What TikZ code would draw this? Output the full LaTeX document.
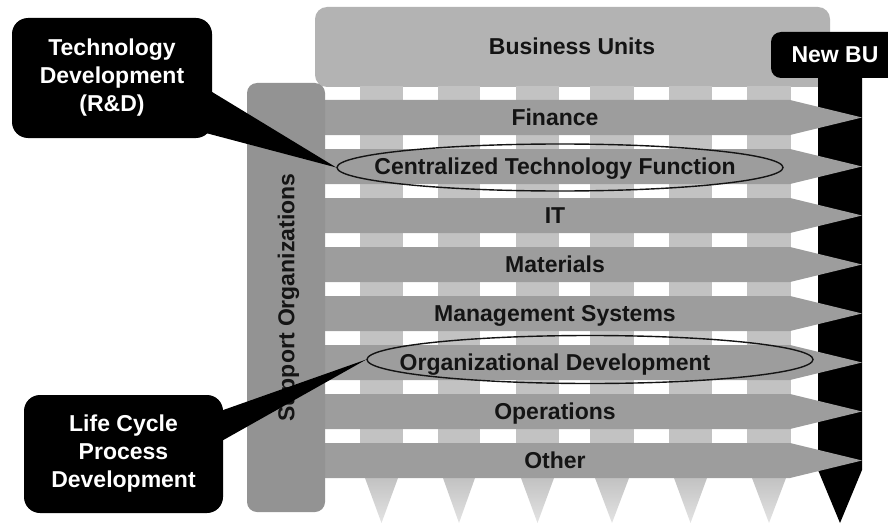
\documentclass[tikz,border=0pt]{standalone}
\usepackage{fontspec}
\setmainfont{Liberation Sans}
\usetikzlibrary{shapes.geometric,calc}
\definecolor{bugray}{HTML}{B3B3B3}
\definecolor{colgray}{HTML}{C2C2C2}
\definecolor{rowgray}{HTML}{9D9D9D}
\definecolor{supgray}{HTML}{939393}
\definecolor{ink}{HTML}{141414}
\begin{document}
\begin{tikzpicture}[x=1pt,y=-1pt,
  lbl/.style={font=\fontsize{23}{28}\selectfont\bfseries, text=ink, inner sep=0pt,
    text height=16.5pt, text depth=0pt},
  calloutbox/.style={fill=black, text=white, rounded corners=16, align=center,
    inner sep=0pt, font=\fontsize{23}{28}\selectfont\bfseries},
  ring/.style={draw=ink, line width=1.4pt, ellipse, inner sep=0pt}]
\useasboundingbox (0,0) rectangle (888,524);

% business unit band across the top
\fill[bugray, rounded corners=12] (315,7) rectangle (830,87);
\node[lbl] (bu) at (572,46) {Business Units};

% business unit columns, each ending in a downward point
\foreach \xl/\xr in {360/403, 438/480, 516/559, 590/634, 669/712, 747/791} {
  \fill[colgray] (\xl,86) rectangle (\xr,478);
  \shade[top color=colgray, bottom color=colgray!45!white]
    (\xl+5,478) -- (\xr-5,478) -- ({(\xl+\xr)/2},523) -- cycle;
}

% the new business unit column
\fill[black] (818,70) -- (862,70) -- (862,470) -- (840,523) -- (818,470) -- cycle;
\node[fill=black, text=white, rounded corners=10, minimum width=128, minimum height=46,
  inner sep=0pt, font=\fontsize{23}{28}\selectfont\bfseries] (newbu) at (835,55) {New BU};

% support functions running across all units
\foreach \i/\t in {0/Finance, 1/Centralized Technology Function, 2/IT, 3/Materials,
                   4/Management Systems, 5/Organizational Development, 6/Operations, 7/Other} {
  \pgfmathsetmacro\rowtop{100+49*\i}
  \fill[rowgray] (300,\rowtop) -- (790,\rowtop) -- (862,\rowtop+17.5)
    -- (790,\rowtop+35) -- (300,\rowtop+35) -- cycle;
  \node[lbl] (row\i) at (555,\rowtop+17.5) {\t};
}

% support organizations band
\node[fill=supgray, rounded corners=10, rotate=90, minimum width=429, minimum height=78,
  lbl] (sup) at (286,297.5) {Support Organizations};

% highlighted functions
\node[ring, minimum width=446, minimum height=47] (ell1) at (560,167.5) {};
\node[ring, minimum width=446, minimum height=48] (ell2) at (590,359.5) {};

% callouts
\node[calloutbox, minimum width=200, minimum height=120] (tech) at (112,78)
  {Technology\\Development\\(R\&D)};
\fill[black] ($(tech.north east)+(-7,70)$) -- (ell1.west) -- ($(tech.south east)+(-17,-8)$) -- cycle;

\node[calloutbox, minimum width=199, minimum height=118] (life) at (123.5,454)
  {Life Cycle\\Process\\Development};
\fill[black] ($(life.north east)+(-5,17)$) -- (ell2.west) -- ($(life.north east)+(-3,47)$) -- cycle;
\end{tikzpicture}
\end{document}
